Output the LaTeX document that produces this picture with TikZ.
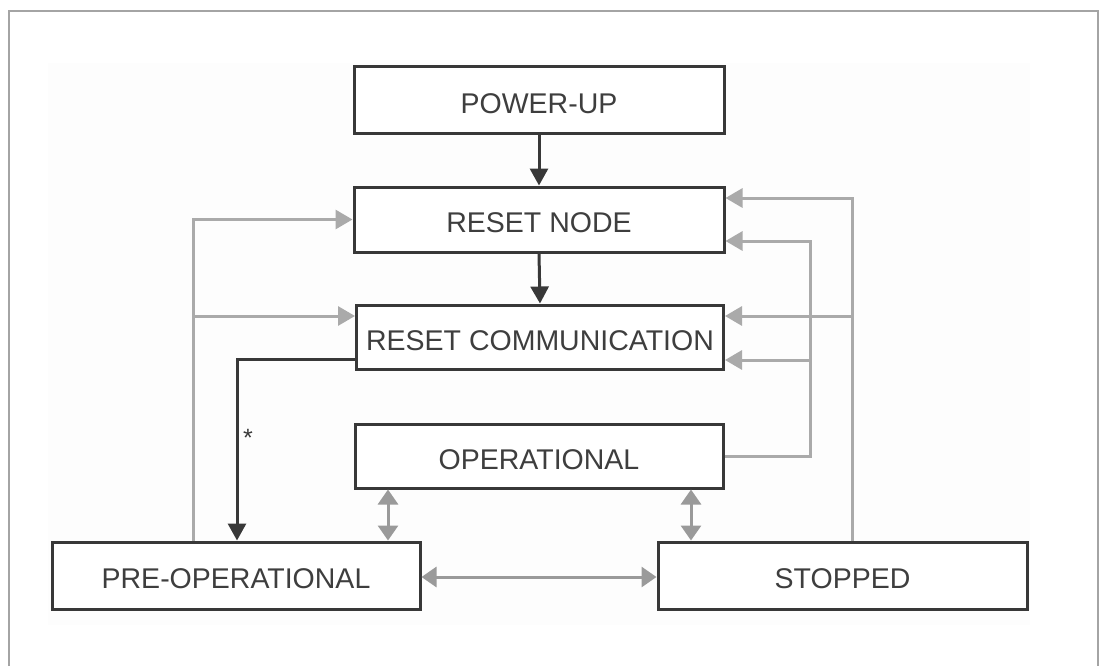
\documentclass[tikz,border=0pt]{standalone}
\usepackage{fontspec}
\setmainfont{Liberation Sans}
\usetikzlibrary{arrows.meta}
\definecolor{boxline}{HTML}{383838}
\definecolor{boxtext}{HTML}{3E3E3E}
\definecolor{linkgray}{HTML}{AAAAAA}
\definecolor{duplexgray}{HTML}{9A9A9A}
\definecolor{framegray}{HTML}{A4A4A4}
\tikzset{
  statebox/.style={draw=boxline, line width=3pt, fill=white, inner sep=0pt,
    text=boxtext, font=\fontsize{28.5}{34}\selectfont,
    text height=26.4pt, text depth=0pt},
  darklink/.style={draw=boxline, line width=3pt,
    -{Triangle[length=17pt,width=18pt]}},
  graylink/.style={draw=linkgray, line width=3pt,
    -{Triangle[length=17pt,width=19pt]}},
  duplex/.style={draw=duplexgray, line width=3pt,
    {Triangle[length=15pt,width=20pt]}-{Triangle[length=15pt,width=20pt]}},
}
\begin{document}
\begin{tikzpicture}[x=1pt, y=-1pt]
  \useasboundingbox (0,0) rectangle (1099,666);
  % outer frame, open at the bottom
  \draw[framegray, line width=2.5pt] (9,666) -- (9,11) -- (1098,11) -- (1098,666);
  % faint panel behind the chart
  \fill[black!0.8] (48,63) rectangle (1030,625);

  % states
  \node[statebox, minimum width=370pt, minimum height=66pt] (pu)  at (539,100)   {POWER-UP};
  \node[statebox, minimum width=370pt, minimum height=65pt] (rn)  at (539,219.5) {RESET NODE};
  \node[statebox, minimum width=367pt, minimum height=64pt] (rc)  at (540,337)   {RESET COMMUNICATION};
  \node[statebox, minimum width=368pt, minimum height=64pt] (op)  at (539,456)   {OPERATIONAL};
  \node[statebox, minimum width=368pt, minimum height=67pt] (pre) at (236,575.5) {PRE-OPERATIONAL};
  \node[statebox, minimum width=369pt, minimum height=67pt] (st)  at (842.5,575.5) {STOPPED};

  % bend points
  \coordinate (lx)  at (193,0);
  \coordinate (ly1) at (0,219.5);
  \coordinate (ly2) at (0,316);
  \coordinate (dx)  at (237,0);
  \coordinate (dy)  at (0,359);
  \coordinate (rox) at (852,0);
  \coordinate (roy1) at (0,198);
  \coordinate (roy2) at (0,316);
  \coordinate (rix) at (810,0);
  \coordinate (riy1) at (0,241);
  \coordinate (riy2) at (0,360);
  \coordinate (dl)  at (388,0);
  \coordinate (dr)  at (691,0);
  \coordinate (hy)  at (0,577);

  % main start-up sequence
  \draw[darklink] (pu.south) -- (rn.north);
  \draw[darklink] (rn.south) -- (rc.north);
  \draw[darklink] (rc.west |- dy) -- (dx |- dy) -- (dx |- pre.north);
  \node[text=boxline, font=\fontsize{25}{25}\selectfont, inner sep=0pt] (star) at (248,438) {*};

  % resets from PRE-OPERATIONAL
  \draw[graylink] (lx |- pre.north) -- (lx |- ly1) -- (rn.west |- ly1);
  \draw[graylink] (lx |- ly2) -- (rc.west |- ly2);

  % resets from STOPPED
  \draw[graylink] (rox |- st.north) -- (rox |- roy1) -- (rn.east |- roy1);
  \draw[graylink] (rox |- roy2) -- (rc.east |- roy2);

  % resets from OPERATIONAL
  \draw[graylink] (op.east) -- (rix |- op.east) -- (rix |- riy1) -- (rn.east |- riy1);
  \draw[graylink] (rix |- riy2) -- (rc.east |- riy2);

  % transitions between the operating states
  \draw[duplex] (dl |- op.south) -- (dl |- pre.north);
  \draw[duplex] (dr |- op.south) -- (dr |- st.north);
  \draw[duplex] (pre.east |- hy) -- (st.west |- hy);
\end{tikzpicture}
\end{document}
